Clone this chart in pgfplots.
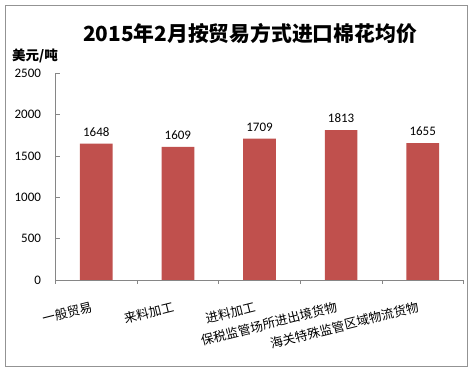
\documentclass[border=0pt]{standalone}
\usepackage{fontspec}
\setmainfont{Carlito}
\newfontfamily\cjk{Noto Sans CJK SC}
\usepackage{pgfplots}
\pgfplotsset{compat=1.18}
\definecolor{barred}{HTML}{C0504D}
\definecolor{axgray}{HTML}{868686}
\begin{document}
\begin{tikzpicture}[x=1pt,y=1pt]
\useasboundingbox (0,0) rectangle (474,372);
\fill[white] (0,0) rectangle (474,372);
\draw[draw=gray!85, line width=0.9pt] (5,6) rectangle (467,367);
\begin{axis}[
  at={(55.5pt,92pt)}, anchor=south west,
  scale only axis, width=408pt, height=206.7pt,
  xmin=-0.5, xmax=4.5, ymin=0, ymax=2500,
  ytick={0,500,...,2500},
  xtick={-0.5,0.5,...,4.5}, xticklabels={},
  extra x ticks={0,1,2,3,4},
  extra x tick labels={一般贸易,来料加工,进料加工,保税监管场所进出境货物,海关特殊监管区域物流货物},
  extra x tick style={major tick length=0pt},
  xticklabel style={font=\cjk\fontsize{12.7}{13}\selectfont, yshift=-26pt, xshift=-1pt, rotate=14, anchor=east},
  yticklabel style={font=\fontsize{13}{14}\selectfont, xshift=-11pt},
  /pgf/number format/assume math mode=true,
  /pgf/number format/set thousands separator={},
  axis x line*=bottom, axis y line*=left,
  axis line style={axgray, line width=0.8pt, -},
  tick style={axgray, line width=0.8pt},
  tick align=inside,
  major tick length=4pt,
  ybar, bar width=32.7pt,
  nodes near coords,
  every node near coord/.append style={font=\fontsize{13}{14}\selectfont, black, yshift=4pt},
  clip=false,
]
\addplot[fill=barred, draw=none] coordinates {(0,1648) (1,1609) (2,1709) (3,1813) (4,1655)};
\end{axis}
\node[font=\cjk\bfseries\fontsize{20.8}{23}\selectfont] at (250,338) {2015年2月按贸易方式进口棉花均价};
\node[font=\cjk\bfseries\fontsize{13.5}{15}\selectfont] at (35,316.5) {美元/吨};
\end{tikzpicture}
\end{document}
